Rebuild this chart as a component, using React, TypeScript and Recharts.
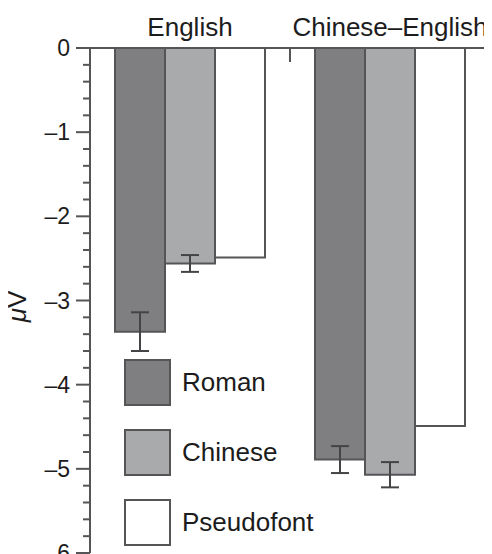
import React from 'react';
import { BarChart, Bar, XAxis, YAxis, ErrorBar, Legend, Label } from 'recharts';

const GROUPS = ['English', 'Chinese–English'];
const ROMAN = [-3.37, -4.89];
const ROMAN_ERR = [0.23, 0.16];
const CHINESE = [-2.56, -5.07];
const CHINESE_ERR = [0.1, 0.15];
const PSEUDOFONT = [-2.49, -4.49];
const Y_MAJOR_TICKS = [0, -1, -2, -3, -4, -5, -6];
const MINOR_PER_MAJOR = 5;

const SERIES = [
  { key: 'roman', name: 'Roman', fill: '#7f7f81', err: 'romanErr' },
  { key: 'chinese', name: 'Chinese', fill: '#a9aaac', err: 'chineseErr' },
  { key: 'pseudofont', name: 'Pseudofont', fill: '#ffffff', err: null as string | null },
];

const data = GROUPS.map((g, i) => ({
  group: g,
  roman: ROMAN[i],
  romanErr: ROMAN_ERR[i],
  chinese: CHINESE[i],
  chineseErr: CHINESE_ERR[i],
  pseudofont: PSEUDOFONT[i],
}));

const allTicks: number[] = [];
for (let i = 0; i < Y_MAJOR_TICKS.length - 1; i++) {
  for (let k = 0; k < MINOR_PER_MAJOR; k++) {
    allTicks.push(Y_MAJOR_TICKS[i] + (Y_MAJOR_TICKS[i + 1] - Y_MAJOR_TICKS[i]) * (k / MINOR_PER_MAJOR));
  }
}
allTicks.push(Y_MAJOR_TICKS[Y_MAJOR_TICKS.length - 1]);

const FONT = '"Liberation Sans", Arial, Helvetica, sans-serif';
const TEXT = '#1c1c1c';
const LINE = '#555557';
const W = 484;
const H = 546;
const MARGIN = { top: 0, right: 2, bottom: 1, left: 0 };
const Y_W = 82;
const X_H = 40;
const BAND = (W - MARGIN.left - MARGIN.right - Y_W) / GROUPS.length;

const fmt = (v: number) => (v < 0 ? '–' + String(Math.abs(v)) : String(v));

const YTick = (props: any) => {
  const { x, y, payload } = props;
  const v = payload.value;
  const major = Math.abs(v - Math.round(v)) < 1e-6;
  return (
    <g>
      <line x1={x - (major ? 14 : 7)} x2={x} y1={y} y2={y} stroke={LINE} strokeWidth={2} />
      {major && (
        <text x={x - 20} y={y} dy="0.355em" textAnchor="end" fontSize={23} fontFamily={FONT} fill={TEXT}>
          {fmt(Math.round(v))}
        </text>
      )}
    </g>
  );
};

const XTick = (props: any) => {
  const { x, y, payload } = props;
  return (
    <g>
      <text x={x} y={y - 12} textAnchor="middle" fontSize={26} fontFamily={FONT} fill={TEXT}>
        {payload.value}
      </text>
      <line x1={x + BAND / 2} x2={x + BAND / 2} y1={y} y2={y + 14} stroke={LINE} strokeWidth={2} />
    </g>
  );
};

const renderLegend = (props: any) => {
  const items = [...(props.payload || [])].sort(
    (a: any, b: any) => SERIES.findIndex((s) => s.name === a.value) - SERIES.findIndex((s) => s.name === b.value)
  );
  return (
    <div style={{ fontFamily: FONT, fontSize: 26, color: TEXT }}>
      {items.map((p: any, i: number) => {
        const s = SERIES.find((q) => q.name === p.value);
        return (
          <div key={p.value} style={{ display: 'flex', alignItems: 'center', height: 47, marginBottom: i < items.length - 1 ? 23 : 0 }}>
            <div style={{ width: 43, height: 43, background: s ? s.fill : p.color, border: `2px solid ${LINE}` }} />
            <span style={{ marginLeft: 11, lineHeight: '47px' }}>{p.value}</span>
          </div>
        );
      })}
    </div>
  );
};

export default function App() {
  return (
    <BarChart width={W} height={H} data={data} margin={MARGIN} barGap={0} barSize={50}>
      <XAxis
        dataKey="group"
        orientation="top"
        height={X_H}
        tickLine={false}
        tickSize={0}
        tickMargin={0}
        axisLine={{ stroke: LINE, strokeWidth: 2 }}
        tick={<XTick />}
        interval={0}
      />
      <YAxis
        type="number"
        domain={[-6, 0]}
        ticks={allTicks}
        interval={0}
        width={Y_W}
        tickLine={false}
        tickSize={0}
        tickMargin={0}
        axisLine={{ stroke: LINE, strokeWidth: 2 }}
        tick={<YTick />}
      >
        <Label
          content={(p: any) => {
            const vb = p.viewBox || {};
            const cx = (vb.x || 0) + 18;
            const cy = (vb.y || 0) + (vb.height || 0) / 2 + 6;
            return (
              <text x={cx} y={cy} transform={`rotate(-90 ${cx} ${cy})`} textAnchor="middle" fontSize={26} fontFamily={FONT} fill={TEXT}>
                <tspan fontStyle="italic">μ</tspan>V
              </text>
            );
          }}
        />
      </YAxis>
      <Legend
        layout="vertical"
        align="center"
        verticalAlign="middle"
        content={renderLegend}
        wrapperStyle={{ left: 116, top: 351, width: 220, height: 'auto', bottom: 'auto', right: 'auto' }}
      />
      {SERIES.map((s) => (
        <Bar key={s.key} dataKey={s.key} name={s.name} fill={s.fill} stroke={LINE} strokeWidth={2} isAnimationActive={false}>
          {s.err && <ErrorBar dataKey={s.err} width={9} stroke="#444446" strokeWidth={2} direction="y" />}
        </Bar>
      ))}
    </BarChart>
  );
}
